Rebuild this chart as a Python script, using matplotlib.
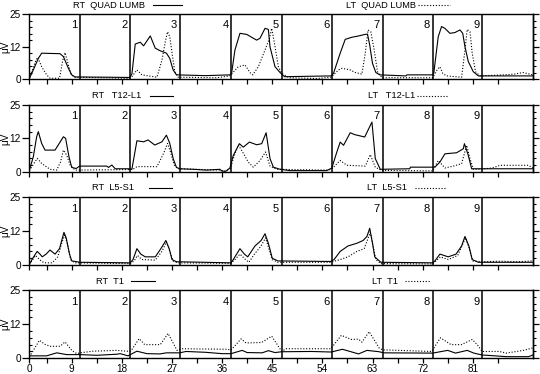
import matplotlib.pyplot as plt
from matplotlib import transforms

plt.rcParams['font.family'] = ['Liberation Sans', 'DejaVu Sans']

# --- data (x = sample, y = microvolts) ---
quad_rt_x = [1.4, 2.1, 3.0, 3.6, 6.9, 7.5, 8.4, 9.0, 9.6, 15.5, 19.4, 19.8, 20.4, 21.3, 21.9, 23.1,
             24.0, 24.8, 26.0, 26.6, 27.2, 27.8, 33.0, 37.4, 37.7, 38.3, 39.2, 40.4, 42.2, 42.8, 43.7,
             44.3, 44.6, 45.5, 46.4, 47.2, 55.6, 56.0, 57.2, 58.1, 59.3, 60.5, 61.7, 62.1, 62.5, 63.0,
             63.6, 64.3, 69.0, 69.2, 73.8, 74.0, 74.8, 75.4, 76.0, 76.9, 77.8, 78.7, 79.2, 79.6, 80.2,
             81.1, 82.0, 91.8]
quad_rt_y = [0.4, 3.6, 8.0, 10.0, 9.8, 8.7, 4.2, 1.7, 0.9, 0.8, 0.7, 2.0, 13.5, 14.2, 12.8, 16.6,
             11.9, 11.0, 10.0, 8.0, 3.6, 1.7, 1.4, 1.7, 2.3, 11.2, 17.6, 17.2, 15.0, 15.7, 19.5,
             19.1, 12.4, 4.8, 2.6, 1.0, 1.3, 2.3, 10.0, 15.3, 16.1, 16.6, 17.2, 17.3, 13.1, 6.1,
             2.6, 1.7, 1.3, 1.7, 1.7, 2.3, 16.3, 20.2, 19.5, 17.6, 17.9, 18.9, 17.6, 12.5, 6.8,
             2.9, 1.3, 1.3]
quad_lt_x = [1.4, 2.6, 2.9, 3.6, 4.5, 5.1, 6.8, 7.4, 7.8, 8.4, 8.9, 9.6, 19.4, 19.8, 20.7, 21.6,
             24.3, 25.2, 25.8, 26.2, 26.6, 27.1, 27.5, 28.1, 35.0, 37.4, 38.9, 40.1, 41.0, 41.5,
             42.5, 43.7, 44.5, 44.9, 45.5, 46.1, 46.7, 48.0, 53.0, 55.6, 56.9, 57.5, 59.0, 59.9,
             61.1, 61.7, 62.2, 62.7, 63.3, 63.9, 64.7, 73.8, 74.6, 75.1, 75.6, 76.3, 79.0, 79.6,
             80.0, 80.5, 80.9, 81.5, 82.3, 86.5, 88.5, 90.0, 91.8]
quad_lt_y = [0.4, 7.4, 8.4, 4.8, 1.7, 0.4, 0.4, 7.4, 10.2, 5.5, 1.7, 0.8, 0.4, 1.0, 3.6, 1.7,
             0.8, 7.4, 14.4, 18.2, 16.3, 8.7, 2.9, 0.8, 0.6, 1.3, 4.8, 5.5, 2.6, 1.7,
             4.8, 11.2, 15.7, 19.5, 12.5, 4.8, 2.3, 0.6, 0.3, 0.8, 3.6, 4.2, 3.6, 2.6,
             2.0, 10.0, 18.9, 18.2, 11.2, 2.9, 0.6, 0.6, 3.6, 4.8, 2.3, 1.3, 0.8, 11.2,
             19.1, 18.2, 10.0, 2.9, 1.3, 1.7, 2.0, 2.6, 1.7]

t12_rt_x = [1.4, 2.1, 2.7, 3.0, 3.6, 4.2, 6.0, 6.4, 7.5, 7.9, 8.5, 9.0, 9.8, 10.4, 15.3, 15.6,
            16.2, 16.8, 19.2, 19.8, 20.7, 21.9, 22.7, 23.9, 25.2, 26.0, 26.6, 27.2, 27.8, 28.4,
            30.8, 33.2, 35.6, 36.0, 36.7, 37.4, 38.0, 39.1, 39.8, 40.9, 42.2, 43.1, 43.9, 44.6,
            45.2, 46.4, 48.2, 54.8, 55.7, 56.6, 57.2, 57.8, 59.0, 59.8, 61.6, 62.9, 63.5, 64.4,
            69.7, 69.8, 73.8, 74.2, 75.1, 76.0, 78.1, 79.3, 79.5, 80.2, 80.8, 91.8]
t12_rt_y = [0.6, 5.6, 13.1, 15.0, 10.6, 8.1, 8.1, 9.4, 13.1, 12.5, 5.6, 1.6, 1.2, 2.1, 2.1, 1.6,
            2.5, 1.1, 1.1, 0.9, 11.6, 11.2, 11.9, 10.0, 11.2, 13.7, 10.6, 5.0, 1.6, 1.1,
            0.9, 0.6, 0.9, 0.2, 0.2, 1.4, 6.1, 10.5, 9.2, 11.1, 10.1, 10.5, 14.6, 4.9,
            1.7, 0.9, 0.4, 0.4, 1.4, 7.4, 11.1, 9.9, 14.6, 13.9, 13.0, 18.6, 4.9, 0.9,
            1.1, 1.7, 1.7, 1.7, 3.6, 6.7, 7.1, 8.6, 10.5, 6.1, 1.1, 1.1]
t12_lt_x = [1.4, 2.8, 3.6, 5.1, 6.3, 7.0, 7.5, 8.1, 8.7, 9.6, 19.4, 20.0, 20.7, 24.3, 25.5, 26.2,
            26.8, 27.4, 28.1, 35.6, 36.5, 37.5, 38.0, 38.9, 39.5, 40.7, 41.6, 42.8, 43.8, 44.6,
            45.8, 55.0, 55.7, 56.6, 57.2, 58.4, 61.7, 62.6, 63.5, 64.6, 73.8, 74.8, 76.0, 77.5,
            79.0, 79.9, 80.5, 81.1, 82.7, 84.5, 85.9, 91.0, 91.8]
t12_lt_y = [0.4, 5.0, 3.1, 0.9, 0.6, 3.7, 8.1, 6.2, 2.5, 0.6, 0.8, 0.9, 1.9, 1.9, 6.9, 10.6,
            6.9, 2.5, 1.1, 0.6, 0.2, 1.2, 4.9, 10.1, 8.0, 3.6, 1.7, 4.2, 7.4, 2.1,
            0.9, 0.6, 1.0, 3.0, 4.2, 2.4, 2.1, 6.4, 1.7, 0.5, 0.3, 4.2, 1.4, 2.1,
            3.0, 9.9, 4.9, 0.9, 1.0, 1.4, 2.4, 2.4, 1.4]

l5_rt_x = [1.4, 2.0, 2.8, 3.3, 3.7, 4.4, 5.1, 6.0, 6.8, 7.6, 8.0, 8.6, 9.0, 10.5, 19.5, 20.0,
           20.7, 21.4, 22.2, 24.0, 25.0, 25.9, 26.5, 27.0, 27.8, 37.6, 38.0, 39.2, 40.0, 40.6,
           41.9, 43.0, 43.7, 44.3, 45.0, 46.0, 55.5, 56.1, 57.2, 58.6, 60.2, 61.3, 62.0, 62.5,
           63.0, 63.4, 64.5, 73.8, 74.2, 75.1, 76.6, 78.0, 79.0, 79.6, 80.3, 80.9, 82.0, 91.8]
l5_rt_y = [0.3, 2.5, 5.0, 4.0, 3.0, 4.0, 5.5, 4.0, 6.0, 12.0, 10.0, 4.0, 1.5, 1.0, 0.8, 2.0,
           6.0, 4.0, 3.0, 3.0, 6.0, 9.0, 6.0, 2.0, 1.2, 0.8, 2.0, 6.0, 4.0, 3.0,
           7.0, 9.0, 11.5, 8.0, 2.5, 1.5, 1.3, 2.0, 5.0, 7.0, 8.0, 9.0, 10.5, 13.5,
           8.0, 3.0, 1.0, 0.8, 1.5, 4.0, 3.0, 4.0, 7.0, 10.5, 7.0, 2.0, 1.0, 1.0]
l5_lt_x = [1.4, 2.0, 2.5, 3.2, 4.0, 5.5, 6.5, 7.2, 7.7, 8.2, 8.8, 9.5, 19.5, 20.2, 20.8, 21.6,
           24.0, 25.2, 26.0, 26.6, 27.2, 28.0, 37.6, 38.3, 39.2, 40.2, 40.8, 41.8, 43.0, 43.8,
           44.4, 45.0, 46.0, 55.5, 56.3, 57.2, 58.6, 60.2, 61.5, 62.6, 63.1, 63.6, 64.5, 73.8,
           74.4, 75.2, 76.6, 78.3, 79.7, 80.4, 81.0, 82.7, 86.0, 89.0, 91.8]
l5_lt_y = [0.2, 2.0, 3.5, 2.0, 0.8, 0.8, 3.0, 8.0, 11.0, 8.0, 2.0, 0.8, 0.5, 1.5, 3.5, 2.0,
           1.8, 5.0, 8.5, 5.0, 1.5, 0.8, 0.6, 2.0, 4.0, 2.0, 1.0, 4.0, 7.0, 10.0,
           6.0, 2.0, 1.0, 1.0, 1.5, 2.0, 3.0, 5.0, 6.0, 12.0, 7.0, 2.0, 0.5, 0.4,
           1.5, 3.0, 2.0, 3.5, 10.0, 6.0, 1.5, 1.2, 1.4, 1.2, 1.5]

t1_rt_x = [1.4, 4.5, 6.3, 8.1, 10.5, 13.5, 17.1, 17.7, 19.1, 20.7, 22.5, 24.8, 26.0, 28.4, 29.5,
           33.0, 36.0, 37.6, 39.6, 40.5, 43.2, 44.3, 45.5, 46.7, 52.0, 55.6, 57.6, 60.5, 62.0,
           64.2, 65.0, 73.8, 76.5, 77.9, 80.0, 81.2, 82.7, 85.0, 87.0, 91.0, 91.8]
t1_rt_y = [0.9, 0.9, 2.0, 1.35, 1.35, 1.1, 1.5, 1.7, 0.9, 2.6, 1.7, 1.6, 2.0, 2.0, 2.5,
           2.2, 1.7, 1.7, 2.9, 2.1, 2.0, 2.8, 2.1, 2.4, 2.5, 2.3, 3.3, 1.6, 2.9,
           2.4, 2.0, 1.9, 2.9, 1.9, 2.9, 1.9, 1.2, 0.9, 0.6, 0.6, 1.2]
t1_lt_x = [1.4, 3.2, 4.2, 5.1, 6.9, 7.8, 9.0, 9.9, 10.5, 12.8, 17.1, 18.9, 19.6, 21.1, 22.1, 24.9,
           26.3, 27.9, 28.7, 37.0, 37.6, 39.4, 40.3, 43.1, 44.9, 45.9, 46.7, 47.5, 55.5, 57.4,
           59.2, 60.5, 61.1, 62.4, 64.2, 64.8, 73.6, 75.2, 77.1, 79.0, 80.9, 81.8, 82.7, 85.8,
           87.0, 90.1, 91.7]
t1_lt_y = [0.5, 6.6, 5.1, 4.4, 4.4, 6.0, 2.9, 1.7, 2.0, 2.6, 2.9, 2.6, 2.6, 7.2, 5.0, 5.0,
           9.1, 2.9, 3.5, 3.3, 3.0, 7.1, 5.6, 5.8, 8.1, 5.0, 2.5, 3.5, 3.5, 8.4,
           6.9, 7.0, 5.9, 9.75, 3.75, 3.1, 2.5, 7.5, 5.0, 5.0, 6.9, 5.0, 2.5, 2.5,
           1.9, 2.9, 3.75]

rt_names = ['RT  QUAD LUMB', 'RT   T12-L1', 'RT  L5-S1', 'RT  T1']
lt_names = ['LT  QUAD LUMB', 'LT   T12-L1', 'LT  L5-S1', 'LT  T1']
trial_labels = ['1', '2', '3', '4', '5', '6', '7', '8', '9']
trial_ends = [10.5, 19.5, 28.4, 37.6, 46.7, 55.7, 64.8, 73.8, 82.7]
x_labels = ['0', '9', '18', '27', '36', '45', '54', '63', '72', '81']

panels = [(quad_rt_x, quad_rt_y, quad_lt_x, quad_lt_y),
          (t12_rt_x, t12_rt_y, t12_lt_x, t12_lt_y),
          (l5_rt_x, l5_rt_y, l5_lt_x, l5_lt_y),
          (t1_rt_x, t1_rt_y, t1_lt_x, t1_lt_y)]

# layout (pixels from top of a 540x374 canvas)
W, H = 540, 374
rows = [(14, 79.3), (105, 171.7), (197, 265), (290, 358.3)]
left_px, right_px = 29.3, 533.3
# legend placement: rt text x, rt line x0, x1, lt text x, lt line x0, x1
legend_pos = [(9.2, 23.6, 28.8, 58.3, 71.2, 76.9),
              (12.6, 23.1, 27.2, 62.2, 71.0, 76.6),
              (12.6, 22.8, 27.0, 62.0, 70.6, 76.2),
              (13.4, 19.6, 24.0, 62.9, 68.8, 73.3)]

dotted = (0, (1, 1.6))
fs = 7.2
lfs = 6.7

fig = plt.figure(figsize=(W / 100, H / 100), dpi=100)

for i, (rx, ry, lx, ly) in enumerate(panels):
    top, bot = rows[i]
    ax = fig.add_axes([left_px / W, 1 - bot / H, (right_px - left_px) / W, (bot - top) / H])
    ax.plot(rx, ry, color='black', lw=0.8)
    ax.plot(lx, ly, color='black', lw=0.8, linestyle=dotted)
    for xe in trial_ends:
        ax.axvline(xe, color='black', lw=1.1)

    ax.set_xlim(1.38, 91.87)
    ax.set_ylim(0, 25)
    for sp in ax.spines.values():
        sp.set_linewidth(1.0)

    # x ticks
    ax.set_xticks([1.38] + [9 * k for k in range(1, 10)])
    ax.set_xticks([4.5 + 9 * k for k in range(10)], minor=True)
    ax.tick_params(axis='x', which='both', direction='out', length=3.4, width=0.9,
                   labelsize=fs, pad=0.8)
    if i == 3:
        ax.set_xticklabels(x_labels)
    else:
        ax.set_xticklabels([])

    # y ticks
    ax.set_yticks([0, 12.5, 25])
    ax.set_yticklabels(['0', '12', '25'])
    ax.set_yticks([2.5 * k for k in range(11)], minor=True)
    ax.tick_params(axis='y', which='major', direction='out', length=5, width=0.9,
                   labelsize=fs, pad=1)
    ax.tick_params(axis='y', which='minor', direction='in', length=2.2, width=0.8)
    ax.set_ylabel('μV', fontsize=fs, labelpad=0)
    ax.yaxis.set_label_coords(-0.037, 0.5)

    sec = ax.secondary_yaxis('right')
    sec.set_yticks([0, 12.5, 25])
    sec.set_yticks([2.5 * k for k in range(11)], minor=True)
    sec.tick_params(which='major', direction='out', length=4.5, width=0.9, labelright=False)
    sec.tick_params(which='minor', direction='out', length=1.8, width=0.8)
    sec.spines['right'].set_linewidth(1.0)

    # trial numbers
    xt = ax.get_xaxis_transform()
    for lab, xe in zip(trial_labels, trial_ends):
        ax.text(xe - 0.45, 0.83, lab, transform=xt, ha='right', va='center', fontsize=8)

    # legend strings above the panel
    above = transforms.offset_copy(xt, x=0, y=9, units='dots')
    rtx, r0, r1, ltx, l0, l1 = legend_pos[i]
    ax.text(rtx, 1, rt_names[i], transform=above, ha='left', va='center', fontsize=lfs)
    ax.plot([r0, r1], [1, 1], transform=above, color='black', lw=0.8, clip_on=False)
    ax.text(ltx, 1, lt_names[i], transform=above, ha='left', va='center', fontsize=lfs)
    ax.plot([l0, l1], [1, 1], transform=above, color='black', lw=0.8,
            linestyle=dotted, clip_on=False)

fig.savefig('out.png', dpi=100)
